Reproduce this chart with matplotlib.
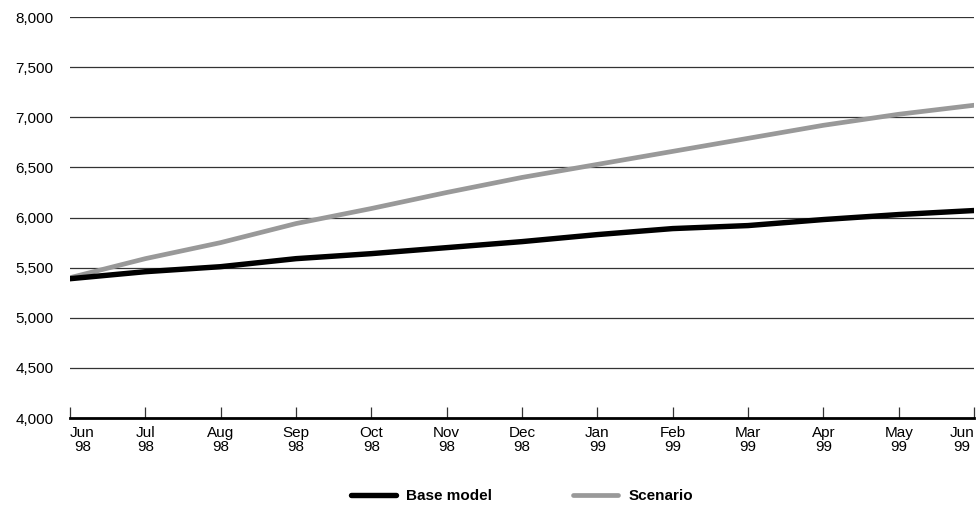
import matplotlib
matplotlib.use("Agg")
import matplotlib.pyplot as plt
from matplotlib import font_manager

months = ["Jun\n98", "Jul\n98", "Aug\n98", "Sep\n98", "Oct\n98", "Nov\n98", "Dec\n98",
          "Jan\n99", "Feb\n99", "Mar\n99", "Apr\n99", "May\n99", "Jun\n99"]
base_model = [5390, 5460, 5510, 5590, 5640, 5700, 5760, 5830, 5890, 5920, 5980, 6030, 6070]
scenario = [5400, 5590, 5750, 5940, 6090, 6250, 6400, 6530, 6660, 6790, 6920, 7030, 7120]
y_ticks = [4000, 4500, 5000, 5500, 6000, 6500, 7000, 7500, 8000]

names = {f.name for f in font_manager.fontManager.ttflist}
fam = "Liberation Sans Narrow" if "Liberation Sans Narrow" in names else "Liberation Sans"
plt.rcParams["font.family"] = [fam, "DejaVu Sans"]

fig = plt.figure(figsize=(9.76, 5.08), dpi=100)
ax = fig.add_axes([0.0717, 0.177, 0.9263, 0.7895])

x = list(range(len(months)))
for yv in y_ticks[1:]:
    ax.axhline(yv, color="#333333", lw=0.9, zorder=1)
ax.plot(x, scenario, color="#999999", lw=3.4, solid_capstyle="round", zorder=3, label="Scenario")
ax.plot(x, base_model, color="black", lw=3.9, solid_capstyle="round", zorder=4, label="Base model")

ax.set_xlim(0, len(months) - 1)
ax.set_ylim(4000, 8000)
for s in ["left", "right", "top"]:
    ax.spines[s].set_visible(False)
ax.spines["bottom"].set_linewidth(2)
ax.spines["bottom"].set_color("black")

ax.set_yticks(y_ticks)
ax.set_yticklabels([f"{v:,}" for v in y_ticks], fontsize=11)
ax.tick_params(axis="y", length=0, pad=12)

ax.set_xticks(x)
ax.set_xticklabels(months, fontsize=11, linespacing=0.95)
ax.tick_params(axis="x", direction="in", length=8, width=0.9, pad=6, color="#333333")
labels = ax.get_xticklabels()
for lab in labels:
    lab.set_multialignment("center")
labels[0].set_ha("left")
labels[-1].set_ha("right")

h, l = ax.get_legend_handles_labels()
leg = fig.legend([h[1], h[0]], [l[1], l[0]], loc="lower center", bbox_to_anchor=(0.535, -0.018),
                 ncol=2, frameon=False, prop={"weight": "bold", "size": 11},
                 handlelength=2.9, columnspacing=5.3, handletextpad=0.7)
plt.savefig("out.png", dpi=100)
